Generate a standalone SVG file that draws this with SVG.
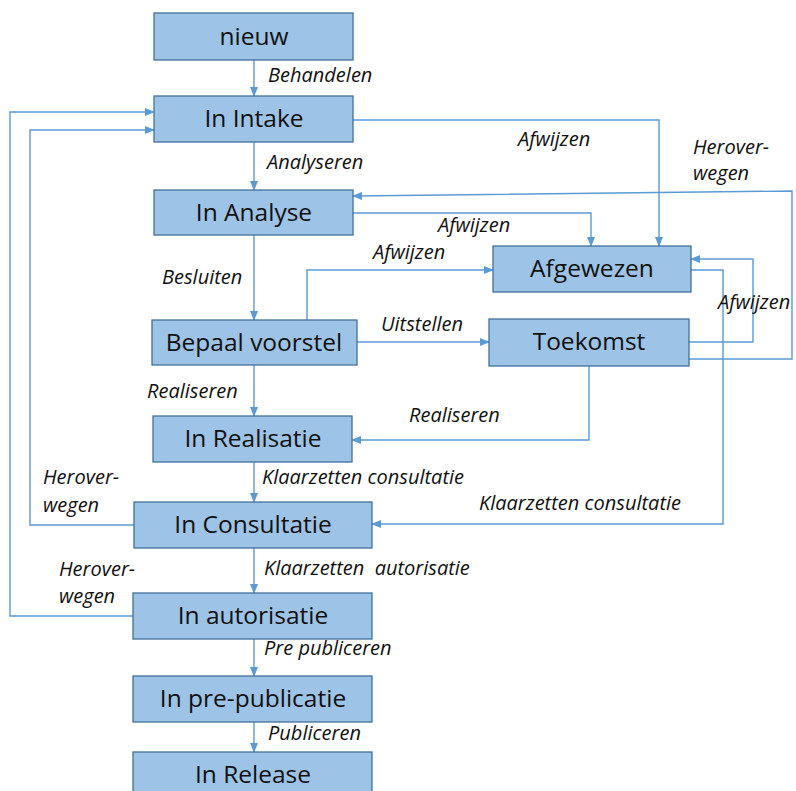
<svg xmlns="http://www.w3.org/2000/svg" width="796" height="791" viewBox="0 0 796 791">
<defs>
<marker id="ah" markerWidth="10" markerHeight="8" refX="9" refY="4" orient="auto" markerUnits="userSpaceOnUse">
<path d="M0,0 L10,4 L0,8 z" fill="#5b9bd5"/>
</marker>
<style>
.n rect{fill:#9dc3e6;stroke:#41719c;stroke-width:1.3}
.n text{font-family:"Open Sans","Liberation Sans",sans-serif;font-size:24.5px;fill:#111;text-anchor:middle}
.c path{fill:none;stroke:#5b9bd5;stroke-width:1.4}
.c path.a{marker-end:url(#ah)}
.l{font-family:"Open Sans","Liberation Sans",sans-serif;font-style:italic;font-size:20px;fill:#111}
</style>
</defs>
<rect width="796" height="791" fill="#fff"/>
<g class="c">
<path class="a" d="M254,60 V96"/>
<path class="a" d="M254,142 V190"/>
<path class="a" d="M254,235 V320"/>
<path class="a" d="M254,365 V416"/>
<path class="a" d="M254,462 V502"/>
<path class="a" d="M254,548 V593"/>
<path class="a" d="M254,639 V676"/>
<path class="a" d="M254,722 V752"/>
<path class="a" d="M134,525 H30 V130 H154"/>
<path class="a" d="M133,616 H10 V112 H154"/>
<path class="a" d="M353,120 H659 V246"/>
<path class="a" d="M353,213 H591 V246"/>
<path class="a" d="M307,320 V270 H493"/>
<path class="a" d="M357,342 H489"/>
<path class="a" d="M689,342 H753 V259 H691"/>
<path class="a" d="M689,359 H792 V191 L353,196"/>
<path class="a" d="M589,366 V440 H352"/>
<path class="a" d="M691,270 H723 V524 H372"/>
</g>
<g class="l">
<text x="268" y="82">Behandelen</text>
<text x="267" y="169">Analyseren</text>
<text x="162" y="284">Besluiten</text>
<text x="518" y="146">Afwijzen</text>
<text x="693" y="154">Herover-</text>
<text x="693" y="180">wegen</text>
<text x="438" y="232">Afwijzen</text>
<text x="373" y="259">Afwijzen</text>
<text x="718" y="309">Afwijzen</text>
<text x="381" y="331">Uitstellen</text>
<text x="147" y="398">Realiseren</text>
<text x="409" y="422">Realiseren</text>
<text x="262" y="484">Klaarzetten consultatie</text>
<text x="43" y="484">Herover-</text>
<text x="43" y="512">wegen</text>
<text x="479" y="510">Klaarzetten consultatie</text>
<text x="59" y="576">Herover-</text>
<text x="59" y="603">wegen</text>
<text x="264" y="575" xml:space="preserve">Klaarzetten  autorisatie</text>
<text x="264" y="655">Pre publiceren</text>
<text x="268" y="740">Publiceren</text>
</g>
<g id="nieuw" class="n"><rect x="154" y="13" width="199" height="47"/><text x="254" y="45">nieuw</text></g>
<g id="intake" class="n"><rect x="154" y="96" width="199" height="46"/><text x="254" y="127">In Intake</text></g>
<g id="analyse" class="n"><rect x="154" y="190" width="199" height="45"/><text x="254" y="221">In Analyse</text></g>
<g id="afgewezen" class="n"><rect x="493" y="246" width="198" height="46"/><text x="592" y="277">Afgewezen</text></g>
<g id="bepaal" class="n"><rect x="152" y="320" width="205" height="45"/><text x="254" y="351">Bepaal voorstel</text></g>
<g id="toekomst" class="n"><rect x="489" y="319" width="200" height="47"/><text x="589" y="350">Toekomst</text></g>
<g id="realisatie" class="n"><rect x="153" y="416" width="199" height="46"/><text x="253" y="447">In Realisatie</text></g>
<g id="consultatie" class="n"><rect x="134" y="502" width="238" height="46"/><text x="253" y="533">In Consultatie</text></g>
<g id="autorisatie" class="n"><rect x="133" y="593" width="239" height="46"/><text x="253" y="624">In autorisatie</text></g>
<g id="prepub" class="n"><rect x="133" y="676" width="239" height="46"/><text x="253" y="707">In pre-publicatie</text></g>
<g id="release" class="n"><rect x="133" y="752" width="239" height="46"/><text x="253" y="783">In Release</text></g>
</svg>
